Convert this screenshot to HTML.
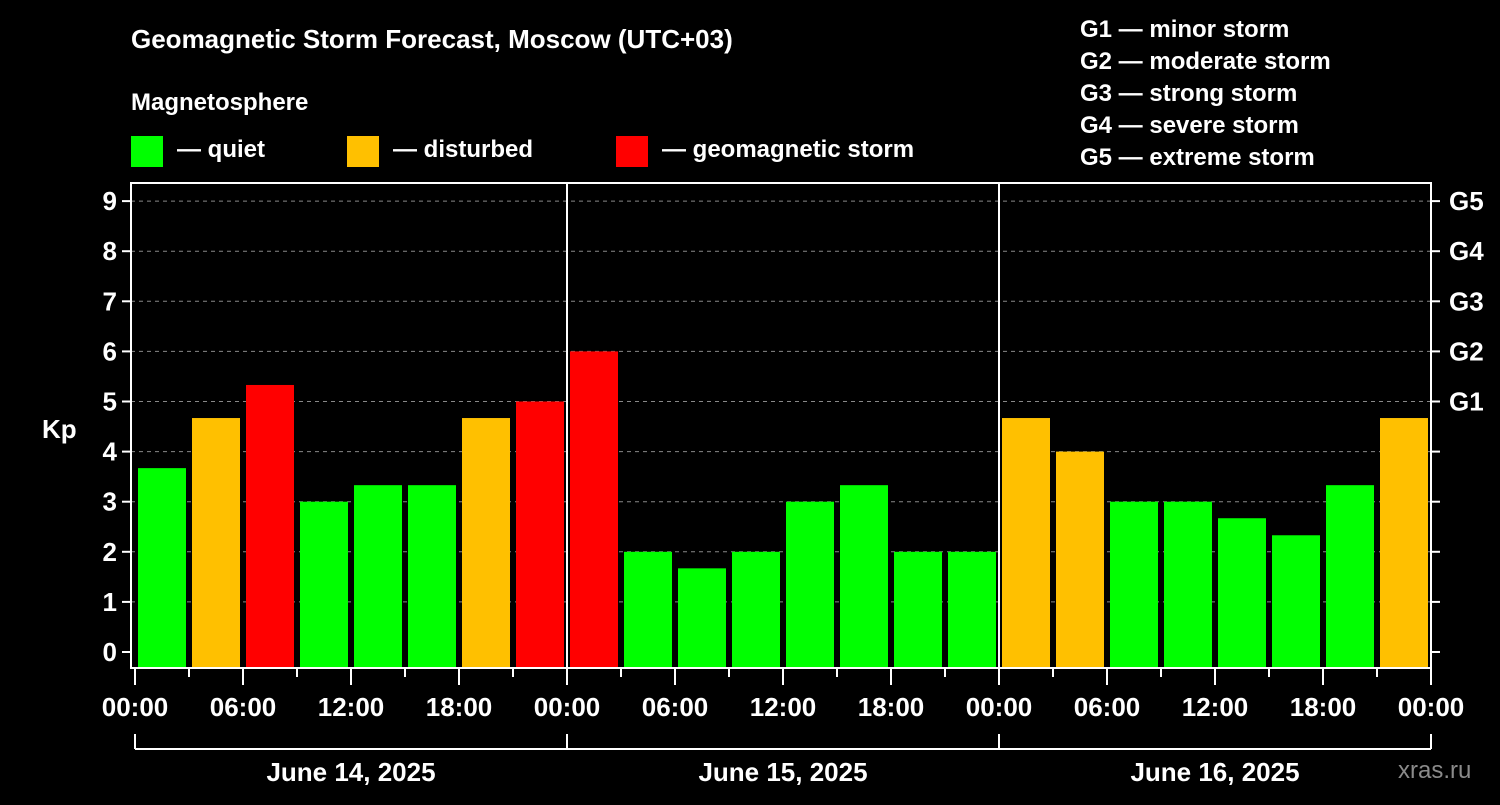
<!DOCTYPE html>
<html><head><meta charset="utf-8"><style>
body{margin:0;background:#000;width:1500px;height:800px;overflow:hidden}
text{font-family:"Liberation Sans",sans-serif;font-weight:bold;fill:#fff}
</style></head><body>
<svg id="c" width="1500" height="800" xmlns="http://www.w3.org/2000/svg">
<text x="131" y="48" font-size="26">Geomagnetic Storm Forecast, Moscow (UTC+03)</text>
<text x="131" y="110" font-size="24">Magnetosphere</text>
<g><rect x="131" y="136" width="32" height="31" fill="#00ff00"/><text x="177" y="157" font-size="24">— quiet</text></g>
<g><rect x="347" y="136" width="32" height="31" fill="#ffc000"/><text x="393" y="157" font-size="24">— disturbed</text></g>
<g><rect x="616" y="136" width="32" height="31" fill="#ff0000"/><text x="662" y="157" font-size="24">— geomagnetic storm</text></g>
<g font-size="24">
<text x="1080" y="37">G1 — minor storm</text><text x="1080" y="69">G2 — moderate storm</text><text x="1080" y="101">G3 — strong storm</text><text x="1080" y="133">G4 — severe storm</text><text x="1080" y="165">G5 — extreme storm</text></g>
<text x="42" y="438" font-size="26">Kp</text>
<text x="1398" y="778" font-size="24" fill="#888" style="fill:#8a8a8a;font-weight:normal">xras.ru</text>
<g id="plot"></g>
</svg>
<script>
const kpValues=[3.67,4.67,5.33,3,3.33,3.33,4.67,5, 6,2,1.67,2,3,3.33,2,2, 4.67,4,3,3,2.67,2.33,3.33,4.67];
const yTicks=[0,1,2,3,4,5,6,7,8,9];
const gLabels=["G1","G2","G3","G4","G5"];
const dayLabels=["June 14, 2025","June 15, 2025","June 16, 2025"];
const hourLabels=["00:00","06:00","12:00","18:00"];
const NS="http://www.w3.org/2000/svg";
const g=document.getElementById('plot');
const X0=135,PX_H=18,L=131,R=1431,T=183,B=668;
const x=h=>X0+h*PX_H;
const y=v=>652-v*50.1;
function mk(t,a,txt){const e=document.createElementNS(NS,t);for(const k in a)e.setAttribute(k,a[k]);if(txt!=null)e.textContent=txt;g.appendChild(e);return e;}
function color(v){return v>=5?'#ff0000':v>=4?'#ffc000':'#00ff00';}
yTicks.forEach(v=>{
 if(v>0){const l=mk('line',{x1:L,x2:R,y1:y(v),y2:y(v),stroke:'#888','stroke-dasharray':'4,4','stroke-width':1});
 
 }
 mk('line',{x1:L-9,x2:L,y1:y(v),y2:y(v),stroke:'#fff','stroke-width':2});
 mk('line',{x1:R,x2:R+9,y1:y(v),y2:y(v),stroke:'#fff','stroke-width':2});
 const t=mk('text',{x:L-14,y:y(v)+9,'font-size':26,'text-anchor':'end'},String(v));
 
 
});
gLabels.forEach((s,i)=>{const t=mk('text',{x:R+18,y:y(5+i)+9,'font-size':26},s);
 
 });
kpValues.forEach((v,i)=>{
 const r=mk('rect',{x:x(i*3)+3,y:y(v),width:48,height:B-y(v),fill:color(v)});
 
 
});
mk('rect',{x:L,y:T,width:R-L,height:B-T,fill:'none',stroke:'#fff','stroke-width':2});
[1,2].forEach(d=>mk('line',{x1:x(d*24),x2:x(d*24),y1:T,y2:B,stroke:'#fff','stroke-width':2}));
for(let h=0;h<=72;h+=3){
 mk('line',{x1:x(h),x2:x(h),y1:B,y2:B+(h%6==0?17:9),stroke:'#fff','stroke-width':2});
 if(h%6==0){const t=mk('text',{x:x(h),y:716,'font-size':26,'text-anchor':'middle'},hourLabels[(h/6)%4]);
 
 }
}
mk('line',{x1:x(0),x2:x(72),y1:749,y2:749,stroke:'#fff','stroke-width':2});
for(let d=0;d<=3;d++)mk('line',{x1:x(d*24),x2:x(d*24),y1:734,y2:749,stroke:'#fff','stroke-width':2});
dayLabels.forEach((s,d)=>{const t=mk('text',{x:x(d*24+12),y:781,'font-size':26,'text-anchor':'middle'},s);
 
 });
</script>
</body></html>
